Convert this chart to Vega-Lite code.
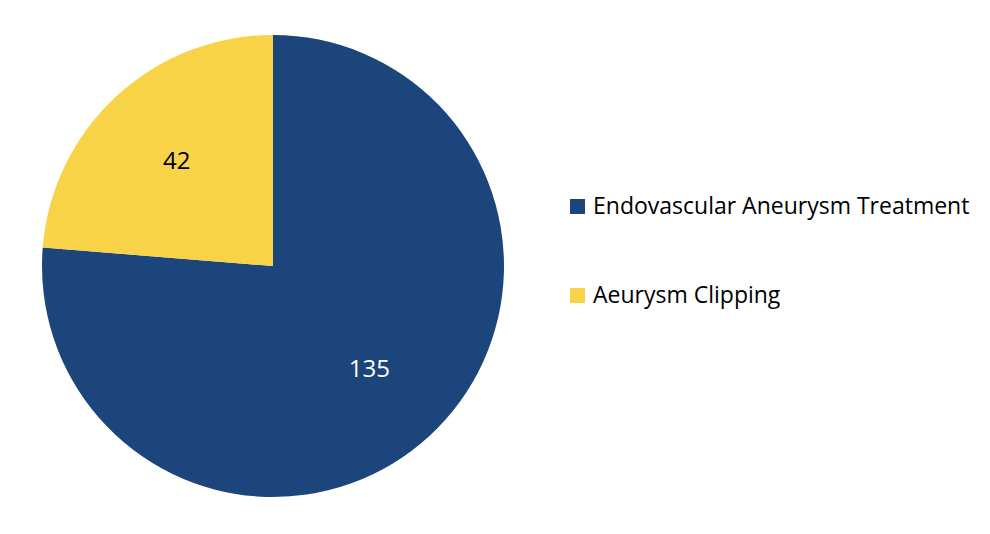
{
  "$schema": "https://vega.github.io/schema/vega-lite/v6.json",
  "width": 546,
  "height": 532,
  "padding": 0,
  "background": "white",
  "config": {"view": {"stroke": null}, "font": "Open Sans"},
  "data": {
    "values": [
      {"category": "Endovascular Aneurysm Treatment", "count": 135, "idx": 1},
      {"category": "Aeurysm Clipping", "count": 42, "idx": 2}
    ]
  },
  "encoding": {
    "theta": {"field": "count", "type": "quantitative", "stack": true},
    "order": {"field": "idx", "type": "quantitative"}
  },
  "layer": [
    {
      "mark": {"type": "arc", "outerRadius": 231},
      "encoding": {
        "color": {
          "field": "category",
          "type": "nominal",
          "scale": {
            "domain": ["Endovascular Aneurysm Treatment", "Aeurysm Clipping"],
            "range": ["#1C457C", "#F8D348"]
          },
          "legend": {
            "title": null,
            "orient": "none",
            "legendX": 566,
            "legendY": 195,
            "symbolType": "square",
            "symbolSize": 225,
            "symbolStrokeWidth": 0,
            "labelFont": "Open Sans",
            "labelFontSize": 23,
            "labelColor": "#000000",
            "labelOffset": 4,
            "rowPadding": 65,
            "padding": 0,
            "labelLimit": 500
          }
        }
      }
    },
    {
      "mark": {"type": "text", "radius": 142, "fontSize": 24, "font": "Open Sans"},
      "encoding": {
        "text": {"field": "count", "type": "quantitative"},
        "color": {
          "condition": {"test": "datum.category === 'Aeurysm Clipping'", "value": "#000000"},
          "value": "#FFFFFF"
        }
      }
    }
  ]
}
